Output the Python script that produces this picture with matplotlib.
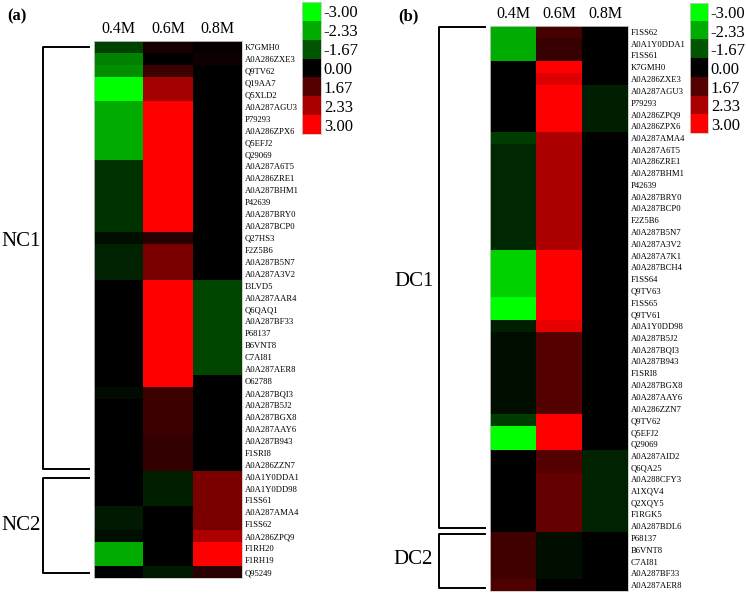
import numpy as np
import matplotlib
matplotlib.use("Agg")
import matplotlib.pyplot as plt
from matplotlib.colors import LinearSegmentedColormap

plt.rcParams['font.family'] = ['Liberation Serif', 'DejaVu Serif']

# ---- data ----
conditions = ["0.4M", "0.6M", "0.8M"]
legend_values = [-3.00, -2.33, -1.67, 0.00, 1.67, 2.33, 3.00]

# panel (a): NaCl
a_proteins = ["K7GMH0", "A0A286ZXE3", "Q9TV62", "Q19AA7", "Q5XLD2", "A0A287AGU3",
              "P79293", "A0A286ZPX6", "Q5EFJ2", "Q29069", "A0A287A6T5", "A0A286ZRE1",
              "A0A287BHM1", "P42639", "A0A287BRY0", "A0A287BCP0", "Q27HS3", "F2Z5B6",
              "A0A287B5N7", "A0A287A3V2", "I3LVD5", "A0A287AAR4", "Q6QAQ1", "A0A287BF33",
              "P68137", "B6VNT8", "C7AI81", "A0A287AER8", "O62788", "A0A287BQI3",
              "A0A287B5J2", "A0A287BGX8", "A0A287AAY6", "A0A287B943", "F1SRI8",
              "A0A286ZZN7", "A0A1Y0DDA1", "A0A1Y0DD98", "F1SS61", "A0A287AMA4", "F1SS62",
              "A0A286ZPQ9", "F1RH20", "F1RH19", "Q95249"]
a_04 = [-1.3, -2.0, -2.1, -3.0, -3.0, -2.33, -2.33, -2.33, -2.33, -2.33,
        -1.0, -1.0, -1.0, -1.0, -1.0, -1.0, -0.3, -0.7, -0.7, -0.7,
        0, 0, 0, 0, 0, 0, 0, 0, 0, -0.2,
        0, 0, 0, 0, 0, 0, 0, 0, 0, -0.5,
        -0.5, -0.3, -2.33, -2.33, 0]
a_06 = [0.5, 0, 1.2, 2.25, 2.25, 3.0, 3.0, 3.0, 3.0, 3.0,
        3.0, 3.0, 3.0, 3.0, 3.0, 3.0, 0.8, 1.95, 1.95, 1.95,
        3.0, 3.0, 3.0, 3.0, 3.0, 3.0, 3.0, 3.0, 3.0, 1.2,
        1.2, 1.2, 1.2, 1.0, 1.0, 1.0, -0.6, -0.6, -0.6, 0,
        0, 0, 0, 0, -0.5]
a_08 = [0.1, 0.3, 0, 0, 0, 0, 0, 0, 0, 0,
        0, 0, 0, 0, 0, 0, 0, 0, 0, 0,
        -1.39, -1.39, -1.39, -1.39, -1.39, -1.39, -1.39, -1.39, 0, 0,
        0, 0, 0, 0, 0, 0, 1.95, 1.95, 1.95, 1.95,
        1.95, 2.33, 3.0, 3.0, 0.8]

# panel (b)
b_proteins = ["F1SS62", "A0A1Y0DDA1", "F1SS61", "K7GMH0", "A0A286ZXE3", "A0A287AGU3",
              "P79293", "A0A286ZPQ9", "A0A286ZPX6", "A0A287AMA4", "A0A287A6T5",
              "A0A286ZRE1", "A0A287BHM1", "P42639", "A0A287BRY0", "A0A287BCP0", "F2Z5B6",
              "A0A287B5N7", "A0A287A3V2", "A0A287A7K1", "A0A287BCH4", "F1SS64", "Q9TV63",
              "F1SS65", "Q9TV61", "A0A1Y0DD98", "A0A287B5J2", "A0A287BQI3", "A0A287B943",
              "F1SRI8", "A0A287BGX8", "A0A287AAY6", "A0A286ZZN7", "Q9TV62", "Q5EFJ2",
              "Q29069", "A0A287AID2", "Q6QA25", "A0A288CFY3", "A1XQV4", "Q2XQY5",
              "F1RGK5", "A0A287BDL6", "P68137", "B6VNT8", "C7AI81", "A0A287BF33",
              "A0A287AER8"]
b_04 = [-2.33, -2.33, -2.33, 0, 0, 0, 0, 0, 0, -1.18,
        -0.8, -0.8, -0.8, -0.8, -0.8, -0.8, -0.8, -0.8, -0.8, -2.64,
        -2.64, -2.64, -2.64, -3.0, -3.0, -0.6, -0.3, -0.3, -0.3, -0.3,
        -0.3, -0.3, -0.3, -1.18, -3.0, -3.0, 0, 0, 0, 0,
        0, 0, 0, 1.29, 1.29, 1.29, 1.29, 1.57]
b_06 = [1.39, 1.08, 1.08, 3.0, 2.72, 3.0, 3.0, 3.0, 3.0, 2.33,
        2.33, 2.33, 2.33, 2.33, 2.33, 2.33, 2.33, 2.33, 2.33, 3.0,
        3.0, 3.0, 3.0, 3.0, 3.0, 2.8, 1.67, 1.67, 1.67, 1.67,
        1.67, 1.67, 1.67, 3.0, 3.0, 3.0, 1.67, 1.67, 1.8, 1.8,
        1.8, 1.8, 1.8, -0.3, -0.3, -0.3, -0.3, 0]
b_08 = [0, 0, 0, 0, 0, -0.6, -0.6, -0.6, -0.6, 0,
        0, 0, 0, 0, 0, 0, 0, 0, 0, 0,
        0, 0, 0, 0, 0, 0, 0, 0, 0, 0,
        0, 0, 0, 0, 0, 0, -0.7, -0.7, -0.7, -0.7,
        -0.7, -0.7, -0.7, 0, 0, 0, 0, 0]

# green - black - red scale with the legend steps as nodes
nodes = [((v + 3) / 6, c) for v, c in zip(legend_values,
         [(0, 1, 0), (0, 0.67, 0), (0, 0.33, 0), (0, 0, 0),
          (0.33, 0, 0), (0.67, 0, 0), (1, 0, 0)])]
cmap = LinearSegmentedColormap.from_list("gkr", nodes)

W, H = 746, 593
fig = plt.figure(figsize=(W / 100, H / 100), dpi=100)


def px_axes(x0, y0, x1, y1):
    # axes from pixel box (top-left origin)
    return fig.add_axes([x0 / W, 1 - y1 / H, (x1 - x0) / W, (y1 - y0) / H])


def light_frame(ax):
    for s in ax.spines.values():
        s.set_color("#c8c8c8")
        s.set_linewidth(0.6)


def heatmap(box, cols, labels, head_pad):
    ax = px_axes(*box)
    mat = np.array(cols).T
    ax.imshow(mat, cmap=cmap, vmin=-3, vmax=3, aspect="auto", interpolation="nearest")
    ax.set_xticks(range(len(conditions)))
    ax.set_xticklabels(conditions, fontsize=11.5)
    ax.xaxis.tick_top()
    ax.tick_params(axis="x", length=0, pad=head_pad)
    ax.set_yticks(range(len(labels)))
    ax.set_yticklabels(labels, fontsize=6.2)
    ax.yaxis.tick_right()
    ax.tick_params(axis="y", length=0, pad=2)
    light_frame(ax)
    return ax


def colour_key(box):
    ax = px_axes(*box)
    ax.imshow(np.array(legend_values).reshape(-1, 1), cmap=cmap, vmin=-3, vmax=3,
              aspect="auto", interpolation="nearest")
    ax.set_xticks([])
    ax.set_yticks(range(len(legend_values)))
    ax.set_yticklabels(["%.2f" % v for v in legend_values], fontsize=12)
    ax.yaxis.tick_right()
    ax.tick_params(axis="y", length=0, pad=2)
    light_frame(ax)


def bracket(x0, x1, y0, y1, text, tx, ty):
    xs = [x1, x0, x0, x1]
    ys = [y0, y0, y1, y1]
    fig.add_artist(plt.Line2D([x / W for x in xs], [1 - y / H for y in ys],
                              color="black", lw=1.4))
    fig.text(tx / W, 1 - ty / H, text, fontsize=15, ha="center", va="center")


heatmap((94, 41, 242, 578), [a_04, a_06, a_08], a_proteins, 3)
heatmap((490, 26, 628, 591), [b_04, b_06, b_08], b_proteins, 3)
colour_key((302, 2, 321, 134))
colour_key((690, 3, 708, 133))

bracket(43, 89, 47, 469, "NC1", 21, 242)
bracket(43, 89, 478, 573, "NC2", 21, 525)
bracket(439, 485, 27, 528, "DC1", 414, 281)
bracket(439, 485, 534, 588, "DC2", 413, 560)

fig.text(17 / W, 1 - 16 / H, "(a)", fontsize=12, fontweight="bold", ha="center", va="center")
fig.text(408 / W, 1 - 16 / H, "(b)", fontsize=12, fontweight="bold", ha="center", va="center")

fig.savefig("out.png", dpi=100)
